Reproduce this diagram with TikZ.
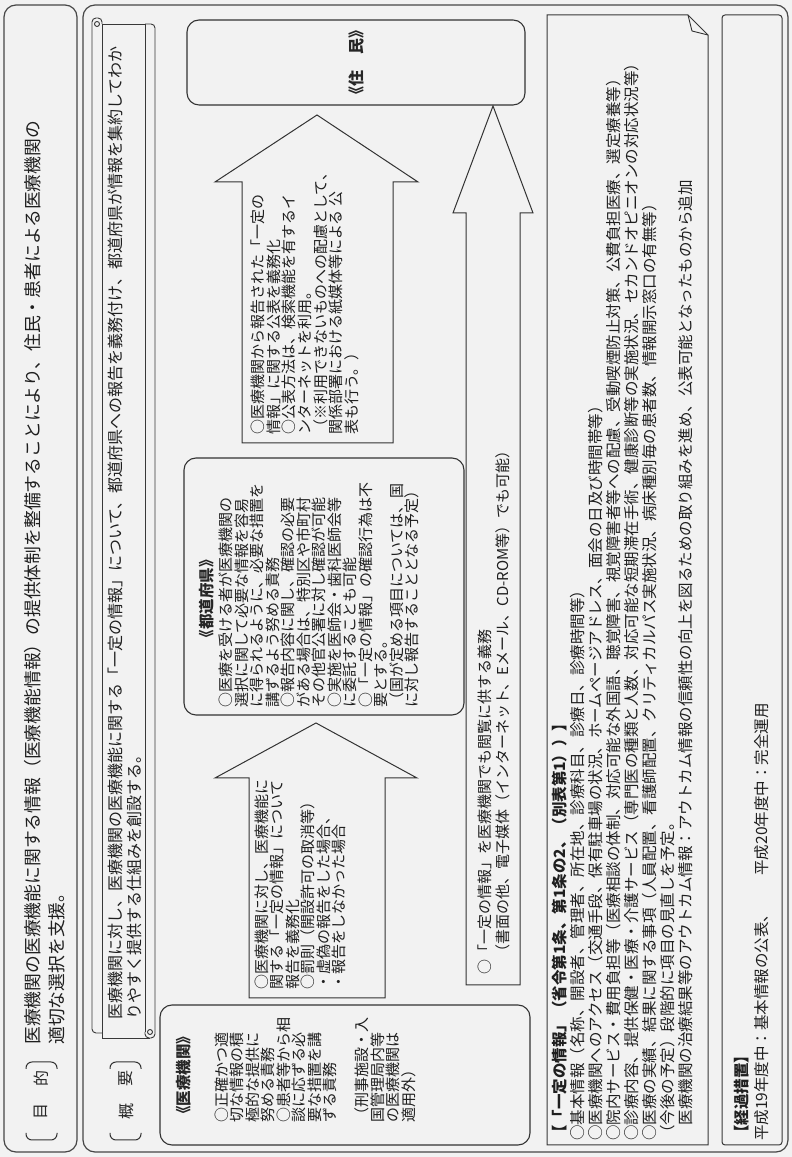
\documentclass[tikz,border=0pt]{standalone}
\usepackage{fontspec}
\setmainfont{Noto Sans CJK JP}
\newcommand\fz[2]{\fontsize{#1}{#2}\selectfont}
\begin{document}
\begin{tikzpicture}[x=1pt,y=-1pt,
  lc/.style={draw=black!78, line width=0.9pt},
  ob/.style={draw=black!72, line width=1.2pt, rounded corners=12},
  rb/.style={draw=black!80, line width=1.1pt, rounded corners=12},
  arr/.style={draw=black!80, line width=1pt, line join=miter},
  txt/.style={inner sep=0pt, anchor=north west, align=left, text=black!88},
  lab/.style={inner sep=0pt, text=black!85},
  brk/.style={draw=black!80, line width=1pt, rounded corners=6},
]
\begin{scope}[rotate=90, transform shape]
\fill[black!5] (0,0) rectangle (1157,792);
\useasboundingbox (0,0) rectangle (1157,792);

% ---------- 目的 ----------
\draw[ob] (5,4) rectangle (1152,77);
\draw[brk] (24,26) -- (17,26) -- (17,57) -- (24,57);
\draw[brk] (88,26) -- (95,26) -- (95,57) -- (88,57);
\node[lab, font=\fz{16}{16}] (mk1) at (45,41) {目};
\node[lab, font=\fz{16}{16}] (mk2) at (78,41) {的};
\node[txt, font=\fz{17.8}{24}] (mktext) at (112,24) {医療機関の医療機能に関する情報（医療機能情報）の提供体制を整備することにより、住民・患者による医療機関の\\適切な選択を支援。};

% ---------- 概要 ----------
\draw[ob] (5,83) rectangle (1152,788);
\draw[brk] (24,110) -- (17,110) -- (17,141) -- (24,141);
\draw[brk] (88,110) -- (95,110) -- (95,141) -- (88,141);
\node[lab, font=\fz{16}{16}] (gy1) at (45,126) {概};
\node[lab, font=\fz{16}{16}] (gy2) at (78,126) {要};

% scroll
\draw[lc, rounded corners=4] (124,102) -- (124,92) -- (1139,92) -- (1139,102) -- (1133,102);
\draw[lc] (119,102) -- (1133,102);
\draw[lc] (1133,97) circle[radius=2.5];
\draw[lc] (119,102) -- (119,150);
\draw[lc] (1133,102) -- (1133,145);
\draw[lc, rounded corners=4] (1133,145) -- (1133,155) -- (119,155) -- (119,145) -- (125,145);
\draw[lc] (125,145) -- (1133,145);
\draw[lc] (125,150) circle[radius=2.5];
\node[txt, font=\fz{16}{19}] (gytext) at (137,108) {医療機関に対し、医療機関の医療機能に関する「一定の情報」について、都道府県への報告を義務付け、都道府県が情報を集約してわか\\りやすく提供する仕組みを創設する。};

% 医療機関 box
\draw[rb] (12,160) rectangle (152,530);
\node[lab, font=\fz{15.5}{16}\bfseries] (ikh) at (82,184) {《医療機関》};
\node[txt, font=\fz{15}{15.5}] (ikt1) at (34,214.5) {○正確かつ適\\切な情報の積\\極的な提供に\\努める責務\\○患者等から相\\談に応ずる必\\要な措置を講\\ずる責務};
\node[txt, font=\fz{15}{15.5}] (ikt2) at (34,354.5) {（刑事施設・入\\国管理局内等\\の医療機関は\\適用外）};

% arrow 1
\draw[arr] (159,249) -- (379,249) -- (379,215) -- (434,316) -- (379,417) -- (379,385) -- (159,385) -- cycle;
\node[txt, font=\fz{15}{15.5}] (a1t) at (167,254.5) {○医療機関に対し、医療機能に\\関する「一定の情報」について\\報告を義務化\\○罰則（開設許可の取消等）\\・虚偽の報告をした場合、\\・報告をしなかった場合};

% 都道府県 box
\draw[rb] (442,184) rectangle (699,464);
\node[lab, font=\fz{15.5}{16}\bfseries] (tdh) at (558,207) {《都道府県》};
\node[txt, font=\fz{15}{15.5}] (tdt) at (449,219) {○医療を受ける者が医療機関の\\選択に関して必要な情報を容易\\に得られるように、必要な措置を\\講ずるよう努める責務\\○報告内容に関し、確認の必要\\がある場合は、特別区や市町村\\その他官公署に対し確認が可能\\○実施を医師会・歯科医師会等\\に委託することも可能\\○「一定の情報」の確認行為は不\\要とする。\\（国が定める項目については、国\\に対し報告することとなる予定）};

% arrow 2
\draw[arr] (714,242) -- (975,242) -- (975,215) -- (1042,317) -- (975,418) -- (975,393) -- (714,393) -- cycle;
\node[txt, font=\fz{15}{15.7}] (a2t) at (722,250.5) {○医療機関から報告された「一定の\\情報」に関する公表を義務化\\○公表方法は、検索機能を有するイ\\ンターネットを利用。\\（※利用できないものへの配慮として、\\関係部署における紙媒体等による 公\\表も行う。）};

% 住民 box
\draw[rb] (1052,187) rectangle (1137,525);
\node[lab, font=\fz{16}{16}\bfseries] (jm) at (1094,356) {《住　民》};

% long arrow
\draw[arr] (172,466) -- (944,466) -- (944,453) -- (1051,493) -- (944,533) -- (944,520) -- (172,520) -- cycle;
\node[txt, font=\fz{15}{18}] (a3t) at (182,477.5) {○「一定の情報」を医療機関でも閲覧に供する義務\\\hspace*{1em}（書面の他、電子媒体（インターネット、Eメール、CD-ROM等）でも可能）};

% 一定の情報 box with folded corner
\draw[lc, line width=1pt] (12,547) -- (1142,547) -- (1142,688) -- (1122,708) -- (12,708) -- cycle;
\draw[lc] (1142,688) -- (1126,692) -- (1122,708);
\node[txt, font=\fz{15.5}{18}] (ltxt) at (16,552) {{\bfseries 【「一定の情報」（省令第1条、第1条の2、（別表第1））】}\\
○基本情報（名称、開設者、管理者、所在地、診療科目、診療日、診療時間等）\\
○医療機関へのアクセス（交通手段、保有駐車場の状況、ホームページアドレス、面会の日及び時間帯等）\\
○院内サービス・費用負担等（医療相談の体制、対応可能な外国語、聴覚障害、視覚障害者等への配慮、受動喫煙防止対策、公費負担医療、選定療養等）\\
○診療内容、提供保健・医療・介護サービス（専門医の種類と人数、対応可能な短期滞在手術、健康診断等の実施状況、セカンドオピニオンの対応状況等）\\
○医療の実績、結果に関する事項（人員配置、看護師配置、クリティカルパス実施状況、病床種別毎の患者数、情報開示窓口の有無等）\\
（今後の予定）段階的に項目の見直しを予定。\\
\hspace*{1em}医療機関の治療結果等のアウトカム情報：アウトカム情報の信頼性の向上を図るための取り組みを進め、公表可能となったものから追加};

% 経過措置 box
\draw[lc, line width=1pt, rounded corners=3] (12,722) rectangle (1142,782);
\node[txt, font=\fz{15.5}{20}] (kk) at (16,734) {{\bfseries 【経過措置】}\\平成19年度中：基本情報の公表、\hspace{2em}平成20年度中：完全運用};
\end{scope}
\end{tikzpicture}
\end{document}
